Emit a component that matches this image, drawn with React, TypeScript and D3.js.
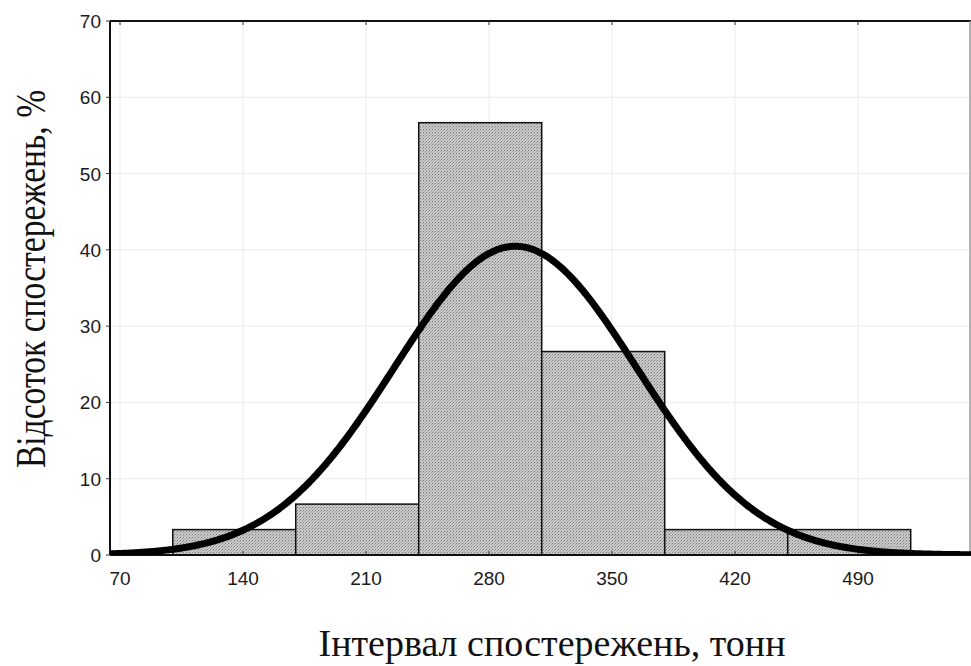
import React from "react";
import * as d3 from "d3";

const binEdges = [100, 170, 240, 310, 380, 450, 520];
const binPercents = [3.33, 6.67, 56.67, 26.67, 3.33, 3.33];
const xTicks = [70, 140, 210, 280, 350, 420, 490];
const yTicks = [0, 10, 20, 30, 40, 50, 60, 70];
const fitMean = 295;
const fitSd = 69;
const binWidth = 70;

const W = 971;
const H = 666;
const L = 110, R = 971, T = 21, B = 555;

export default function App() {
  const x = d3.scaleLinear().domain([64.3, 554.3]).range([L, R]);
  const y = d3.scaleLinear().domain([0, 70]).range([B, T]);
  const bins = binPercents.map((p, i) => ({ x0: binEdges[i], x1: binEdges[i + 1], p }));
  const xs = d3.range(64.3, 554.4, 1);
  const pdf = (v: number) =>
    (100 * binWidth * Math.exp(-0.5 * ((v - fitMean) / fitSd) ** 2)) / (fitSd * Math.sqrt(2 * Math.PI));
  const line = d3
    .line<number>()
    .x((d) => x(d))
    .y((d) => y(pdf(d)))
    .curve(d3.curveBasis);

  return (
    <svg width={W} height={H} style={{ position: "absolute", left: 0, top: 0, background: "#fff" }}>
      <defs>
        <pattern id="dots" width="3" height="3" patternUnits="userSpaceOnUse">
          <rect width="3" height="3" fill="#cacaca" />
          <rect x="0" y="0" width="1" height="1" fill="#7a7a7a" />
          <rect x="2" y="1" width="1" height="1" fill="#9c9c9c" />
          <rect x="1" y="2" width="1" height="1" fill="#b0b0b0" />
        </pattern>
        <clipPath id="plot">
          <rect x={L} y={T} width={R - L} height={B - T} />
        </clipPath>
      </defs>
      {/* grid */}
      {xTicks.map((t) => (
        <line key={"gx" + t} x1={x(t)} x2={x(t)} y1={T} y2={B} stroke="#ececec" strokeWidth={1} />
      ))}
      {yTicks.map((t) => (
        <line key={"gy" + t} x1={L} x2={R} y1={y(t)} y2={y(t)} stroke="#ececec" strokeWidth={1} />
      ))}
      {/* bars */}
      {bins.map((b, i) => (
        <rect
          key={i}
          x={x(b.x0)}
          y={y(b.p)}
          width={x(b.x1) - x(b.x0)}
          height={B - y(b.p)}
          fill="url(#dots)"
          stroke="#111"
          strokeWidth={1.5}
        />
      ))}
      {/* frame */}
      <line x1={L} x2={R} y1={T} y2={T} stroke="#111" strokeWidth={2} />
      <line x1={R - 1} x2={R - 1} y1={T} y2={B} stroke="#999" strokeWidth={1.5} />
      <line x1={L} x2={L} y1={T} y2={B} stroke="#111" strokeWidth={2} />
      <line x1={L} x2={R} y1={B} y2={B} stroke="#111" strokeWidth={2} />
      {/* ticks */}
      {xTicks.map((t) => (
        <g key={"tx" + t}>
          <line x1={x(t)} x2={x(t)} y1={T} y2={T + 4} stroke="#333" strokeWidth={1} />
          <line x1={x(t)} x2={x(t)} y1={B} y2={B - 4} stroke="#333" strokeWidth={1} />
          <text
            x={x(t)}
            y={B + 30}
            textAnchor="middle"
            fontFamily="Liberation Sans, Arial, sans-serif"
            fontSize={19}
            fill="#1a1a1a"
          >
            {t}
          </text>
        </g>
      ))}
      {yTicks.map((t) => (
        <g key={"ty" + t}>
          <line x1={L - 4} x2={L} y1={y(t)} y2={y(t)} stroke="#333" strokeWidth={1} />
          <text
            x={L - 9}
            y={y(t) + 7}
            textAnchor="end"
            fontFamily="Liberation Sans, Arial, sans-serif"
            fontSize={19}
            fill="#1a1a1a"
          >
            {t}
          </text>
        </g>
      ))}
      {/* fitted normal curve */}
      <path
        d={line(xs) || ""}
        fill="none"
        stroke="#000"
        strokeWidth={7}
        strokeLinecap="round"
        clipPath="url(#plot)"
      />
      {/* axis titles */}
      <text
        x={552}
        y={656}
        textAnchor="middle"
        fontFamily="Liberation Serif, Times New Roman, serif"
        fontSize={38}
        fill="#111"
      >
        Інтервал спостережень, тонн
      </text>
      <text
        transform={`translate(45, 279) rotate(-90) scale(0.8, 1)`}
        textAnchor="middle"
        fontFamily="Liberation Serif, Times New Roman, serif"
        fontSize={42}
        fill="#111"
      >
        Відсоток спостережень, %
      </text>
    </svg>
  );
}
